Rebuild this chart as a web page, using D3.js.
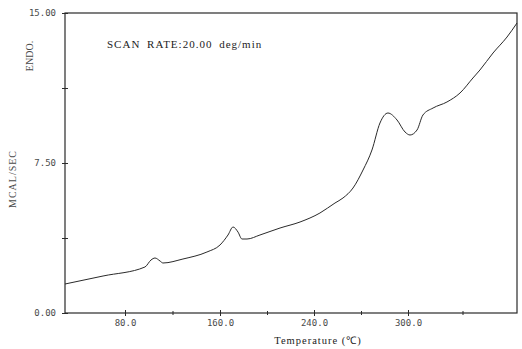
<!DOCTYPE html>
<html>
<head>
<meta charset="utf-8">
<script src="https://cdn.jsdelivr.net/npm/d3@7"></script>
<style>
  html, body { margin: 0; padding: 0; background: #fff; }
  svg { display: block; }
</style>
</head>
<body>
<svg id="chart" width="522" height="349"></svg>
<script>
// DSC trace: heat flow (mcal/sec) against temperature (°C)
const temperature = [30, 61.7, 96.8, 101.9, 105.3, 109.5, 112.0, 128.8, 149.0, 160.0,
  166.8, 171.1, 175.3, 178.7, 183.0, 194.0, 211.1, 228.1, 243.8, 253.4,
  258.5, 264.9, 271.3, 277.0, 282.1, 287.2, 293.0, 298.1, 301.3, 305.8,
  309.6, 316.1, 325.0, 333.4, 341.7, 346.2, 354.6, 363.6, 370];
const heatFlow = [1.45, 1.85, 2.3, 2.65, 2.75, 2.6, 2.5, 2.7, 3.05, 3.4,
  3.9, 4.3, 4.05, 3.7, 3.7, 3.9, 4.25, 4.55, 5.0, 5.5,
  5.75, 6.25, 7.15, 8.15, 9.5, 10.0, 9.65, 9.05, 8.9, 9.15,
  9.9, 10.25, 10.55, 11.0, 11.75, 12.15, 13.0, 13.8, 14.5];

const xTickLabels = [80, 160, 240, 300];
const xMinorTicks = [120, 200, 270, 335];
const yTickLabels = [0, 7.5, 15];
const yMinorTicks = [3.75, 11.25];

const svg = d3.select("#chart");
const frame = { left: 65, right: 517, top: 13, bottom: 313 };

// the recorder's temperature axis is not uniform: each labelled division spans the same width
const x = d3.scaleLinear()
  .domain([30, 80, 160, 240, 300, 370])
  .range([frame.left, 125, 220, 314, 408, frame.right]);
const y = d3.scaleLinear().domain([0, 15]).range([frame.bottom, frame.top]);

const ink = "#2a2a2a";
const textInk = "#4a4a4a";

// frame
svg.append("rect")
  .attr("x", frame.left).attr("y", frame.top)
  .attr("width", frame.right - frame.left).attr("height", frame.bottom - frame.top)
  .attr("fill", "none").attr("stroke", ink).attr("stroke-width", 1.2);

// bottom axis
const xAxis = svg.append("g").attr("transform", `translate(0,${frame.bottom})`)
  .call(d3.axisBottom(x).tickValues(xTickLabels).tickFormat(d3.format(".1f")).tickSize(3).tickSizeOuter(0));
xAxis.select(".domain").remove();
xAxis.selectAll(".tick line").attr("y1", -3).attr("stroke", ink);
xAxis.selectAll(".tick text")
  .attr("dy", "0.9em").attr("y", 5)
  .attr("font-family", "DejaVu Sans Mono").attr("font-size", 9).attr("fill", textInk);

const xMinor = svg.append("g").attr("transform", `translate(0,${frame.bottom})`)
  .call(d3.axisBottom(x).tickValues(xMinorTicks).tickFormat("").tickSize(2).tickSizeOuter(0));
xMinor.select(".domain").remove();
xMinor.selectAll(".tick line").attr("y1", -2).attr("stroke", ink);

// left axis
const yAxis = svg.append("g").attr("transform", `translate(${frame.left},0)`)
  .call(d3.axisLeft(y).tickValues(yTickLabels).tickFormat(d3.format(".2f")).tickSize(3).tickSizeOuter(0));
yAxis.select(".domain").remove();
yAxis.selectAll(".tick line").attr("x1", 3).attr("stroke", ink);
yAxis.selectAll(".tick text")
  .attr("x", -9)
  .attr("font-family", "DejaVu Sans Mono").attr("font-size", 9).attr("fill", textInk);

const yMinor = svg.append("g").attr("transform", `translate(${frame.left},0)`)
  .call(d3.axisLeft(y).tickValues(yMinorTicks).tickFormat("").tickSize(3).tickSizeOuter(0));
yMinor.select(".domain").remove();
yMinor.selectAll(".tick line").attr("x1", 3).attr("stroke", ink);

// trace
const line = d3.line()
  .x((d, i) => x(temperature[i]))
  .y(d => y(d))
  .curve(d3.curveMonotoneX);
svg.append("path")
  .datum(heatFlow)
  .attr("d", line)
  .attr("fill", "none")
  .attr("stroke", ink)
  .attr("stroke-width", 1);

// labels
svg.append("text")
  .attr("x", 107).attr("y", 48)
  .attr("font-family", "Liberation Serif").attr("font-size", 11).attr("fill", "#222")
  .attr("letter-spacing", 1)
  .attr("word-spacing", 3)
  .text("SCAN RATE:20.00 deg/min");

svg.append("text")
  .attr("x", 318).attr("y", 344)
  .attr("text-anchor", "middle")
  .attr("font-family", "Liberation Serif").attr("font-size", 10.5).attr("fill", "#222")
  .attr("letter-spacing", 1)
  .text("Temperature (℃)");

svg.append("text")
  .attr("transform", "translate(33,56) rotate(-90)")
  .attr("text-anchor", "middle")
  .attr("font-family", "Liberation Serif").attr("font-size", 10).attr("fill", textInk)
  .text("ENDO.");

svg.append("text")
  .attr("transform", "translate(16,179) rotate(-90)")
  .attr("text-anchor", "middle")
  .attr("font-family", "Liberation Serif").attr("font-size", 10).attr("fill", textInk)
  .attr("letter-spacing", 1)
  .text("MCAL/SEC");
</script>
</body>
</html>
